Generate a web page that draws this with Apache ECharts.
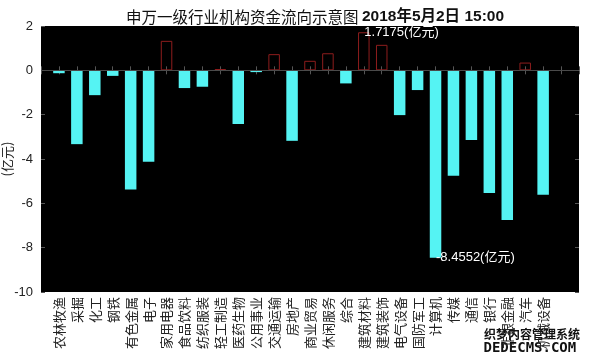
<!DOCTYPE html>
<html>
<head>
<meta charset="utf-8">
<script src="https://cdn.jsdelivr.net/npm/echarts@6/dist/echarts.min.js"></script>
<style>
html,body{margin:0;padding:0;background:#fff;}
#c{width:592px;height:362px;}
</style>
</head>
<body>
<div id="c"></div>
<script>
var industries = ['农林牧渔','采掘','化工','钢铁','有色金属','电子','家用电器','食品饮料','纺织服装','轻工制造','医药生物','公用事业','交通运输','房地产','商业贸易','休闲服务','综合','建筑材料','建筑装饰','电气设备','国防军工','计算机','传媒','通信','银行','非银金融','汽车','机械设备'];
var flows = [-0.13,-3.33,-1.12,-0.25,-5.38,-4.12,1.33,-0.80,-0.74,0.06,-2.42,-0.08,0.73,-3.18,0.43,0.77,-0.59,1.7175,1.15,-2.02,-0.89,-8.4552,-4.75,-3.14,-5.53,-6.75,0.35,-5.61];
var yTicks = [-10,-8,-6,-4,-2,0,2];
var titleMain = '申万一级行业机构资金流向示意图';
var titleDate = '2018年5月2日 15:00';
var unit = '(亿元)';

// axis slots: one empty slot before, two after (range 0..30)
var cats = [''].concat(industries, ['', '']);
var barData = [null].concat(flows.map(function(v){
  return v >= 0
    ? {value: v, itemStyle: {color: 'rgba(0,0,0,0)', borderColor: '#8e1d1d', borderWidth: 1}}
    : {value: v, itemStyle: {color: '#55f3f3'}};
}), [null, null]);

var chart = echarts.init(document.getElementById('c'), null, {renderer: 'canvas'});
var tickStyle = {show: true, inside: true, length: 4, lineStyle: {color: '#555'}};
chart.setOption({
  backgroundColor: '#fff',
  animation: false,
  title: {
    text: '{a|' + titleMain + ' }{b|' + titleDate + '}',
    left: 310, top: 4, textAlign: 'center',
    textStyle: {
      fontWeight: 'normal',
      rich: {
        a: {fontFamily: 'Noto Sans CJK SC', fontSize: 15.5, fontWeight: 'normal', color: '#111'},
        b: {fontFamily: 'Liberation Sans, Noto Sans CJK SC', fontSize: 15.5, fontWeight: 'bold', color: '#111'}
      }
    }
  },
  grid: {left: 41, right: 13, top: 26, bottom: 70, show: true, backgroundColor: '#000', borderWidth: 0, containLabel: false, outerBoundsMode: 'none'},
  xAxis: [{
    type: 'category', data: cats, boundaryGap: false,
    axisLine: {show: false}, axisTick: Object.assign({interval: 0}, tickStyle),
    axisLabel: {interval: 0, rotate: 90, fontFamily: 'Noto Sans CJK SC', fontSize: 13, color: '#222', margin: 5},
    splitLine: {show: false}
  }, {
    type: 'category', data: cats, boundaryGap: false, position: 'top',
    axisLine: {show: false}, axisTick: Object.assign({interval: 0}, tickStyle),
    axisLabel: {show: false}, splitLine: {show: false}
  }],
  yAxis: [{
    type: 'value', min: -10, max: 2, interval: 2,
    name: unit, nameLocation: 'middle', nameGap: 27, nameRotate: 90, nameMoveOverlap: false,
    nameTextStyle: {fontFamily: 'Noto Sans CJK SC', fontSize: 13, color: '#222'},
    axisLine: {show: false}, axisTick: tickStyle, splitLine: {show: false},
    axisLabel: {fontFamily: 'Liberation Sans', fontSize: 13, color: '#222', margin: 8}
  }, {
    type: 'value', min: -10, max: 2, interval: 2, position: 'right',
    axisLine: {show: false}, axisTick: tickStyle, splitLine: {show: false},
    axisLabel: {show: false}
  }],
  series: [{
    type: 'bar', data: barData, barWidth: 11.5,
    markLine: {
      silent: true, symbol: 'none', label: {show: false},
      lineStyle: {color: '#4a4a4a', width: 1, type: 'solid'},
      data: [{yAxis: 0}]
    },
    markPoint: {
      symbol: 'circle', symbolSize: 1,
      itemStyle: {color: 'rgba(0,0,0,0)'},
      label: {
        show: true, position: 'right', distance: 0,
        fontFamily: 'Liberation Sans, Noto Sans CJK SC', fontSize: 13, color: '#fff',
        formatter: function(p){ return p.value + unit; }
      },
      data: [{type: 'max'}, {type: 'min'}]
    }
  }],
  graphic: [{
    type: 'text', left: 483, top: 327,
    style: {text: '织梦内容管理系统', fontFamily: 'Noto Sans CJK SC', fontSize: 12, fontWeight: 'bold', fill: '#111', stroke: '#fff', lineWidth: 2}
  }, {
    type: 'text', left: 483, top: 341,
    style: {text: 'DEDECMS.COM', fontFamily: 'DejaVu Sans Mono', fontSize: 14, fontWeight: 'bold', fill: '#111', stroke: '#fff', lineWidth: 1}
  }]
});
</script>
</body>
</html>
